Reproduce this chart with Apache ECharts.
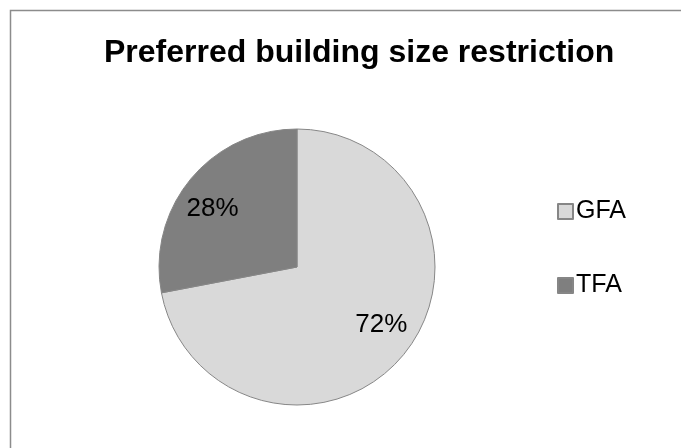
<!DOCTYPE html>
<html>
<head>
<meta charset="utf-8">
<script src="https://cdn.jsdelivr.net/npm/echarts@6/dist/echarts.min.js"></script>
<style>html,body{margin:0;padding:0;background:#fff}#c{width:681px;height:448px}</style>
</head>
<body>
<div id="c"></div>
<script>
const titleText = 'Preferred building size restriction';
const categories = ['GFA', 'TFA'];
const values = [72, 28];
const colors = ['#d9d9d9', '#7f7f7f'];

const chart = echarts.init(document.getElementById('c'));
const data = categories.map((name, i) => ({ name, value: values[i], itemStyle: { color: colors[i] } }));
chart.setOption({
  animation: false,
  graphic: [{
    type: 'rect', shape: { x: 10.5, y: 10.5, width: 700, height: 500 },
    style: { fill: 'none', stroke: '#8c8c8c', lineWidth: 1.5 }, silent: true, z: -1
  }],
  title: {
    text: titleText, left: 99, top: 32,
    textStyle: { fontFamily: 'Liberation Sans, Arial', fontSize: 32, fontWeight: 'bold', color: '#000' }
  },
  legend: {
    orient: 'vertical', left: 557, top: 199, padding: 0, icon: 'rect', itemWidth: 15, itemHeight: 15, itemGap: 49,
    data: categories,
    textStyle: { fontFamily: 'Liberation Sans, Arial', fontSize: 25, color: '#000', lineHeight: 25, padding: [0,0,0,-2] }
  },
  series: [{
    type: 'pie', center: [297, 267], radius: [0, 138], startAngle: 90, clockwise: true,
    label: { show: false }, labelLine: { show: false },
    itemStyle: { borderColor: '#868686', borderWidth: 1 },
    emphasis: { disabled: true },
    data: data
  }, {
    type: 'pie', center: [297, 267], radius: [61, 138], startAngle: 95, clockwise: true,
    silent: true, legendHoverLink: false,
    itemStyle: { color: 'rgba(0,0,0,0)', borderWidth: 0 },
    label: { show: true, position: 'inside', formatter: '{d}%', fontFamily: 'Liberation Sans, Arial', fontSize: 26, color: '#000' },
    labelLine: { show: false },
    emphasis: { disabled: true },
    data: categories.map((name, i) => ({ name: name + ' ', value: values[i] }))
  }]
});
</script>
</body>
</html>
